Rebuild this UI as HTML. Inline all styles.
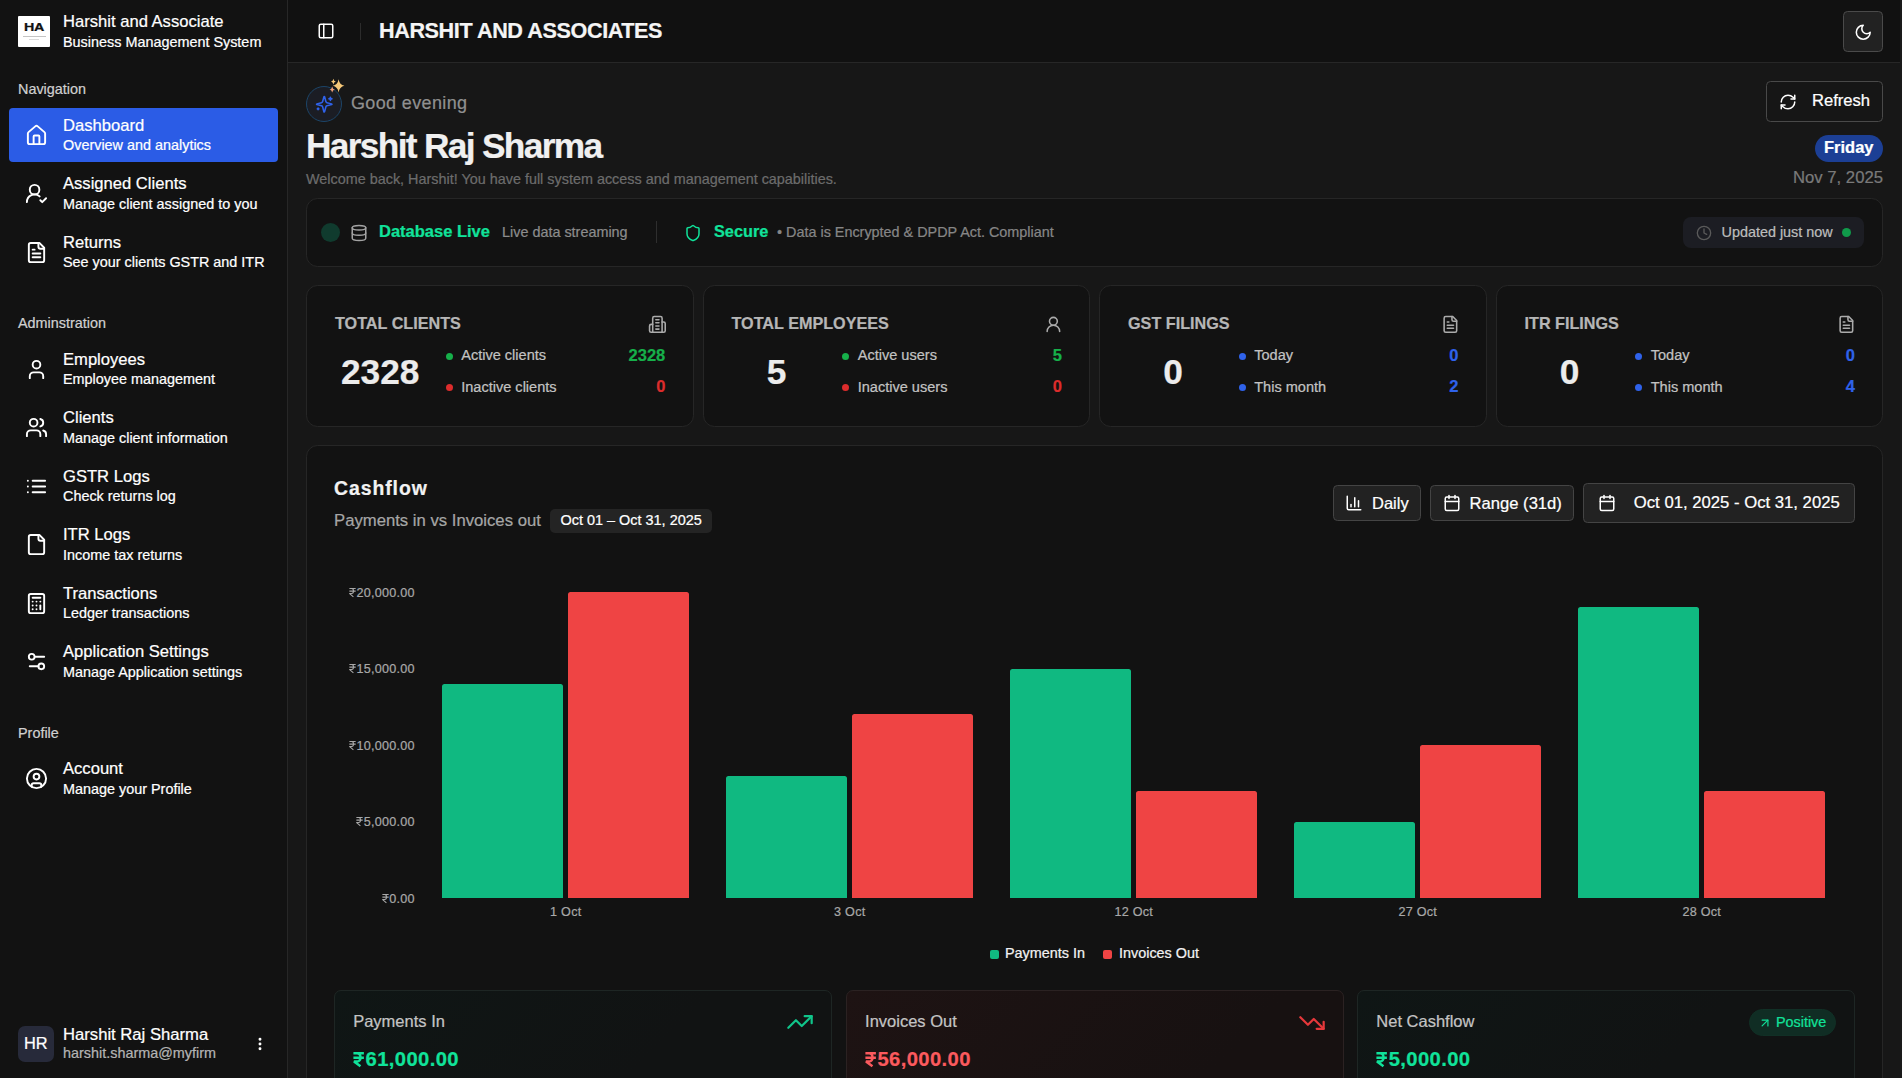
<!DOCTYPE html>
<html lang="en">
<head>
<meta charset="utf-8">
<title>Harshit and Associates</title>
<style>
*{box-sizing:border-box;margin:0;padding:0}
html,body{width:1902px;height:1078px;overflow:hidden;background:#171717;font-family:"Liberation Sans",sans-serif;color:#fff}
.abs{position:absolute}
.t{position:absolute;white-space:nowrap;line-height:1;-webkit-text-stroke:0.22px currentColor}
svg{position:absolute;fill:none;stroke:currentColor;stroke-width:2;stroke-linecap:round;stroke-linejoin:round;overflow:visible}
#sidebar{position:absolute;left:0;top:0;width:288px;height:1078px;background:#121212;border-right:1px solid #272727}
#header{position:absolute;left:288px;top:0;width:1612px;height:63px;background:#111;border-bottom:1px solid #272727}
#main{position:absolute;left:288px;top:63px;width:1612px;height:1015px;background:#171717}
#scroll{position:absolute;left:1900px;top:0;width:2px;height:1078px;background:#1a1a1a}
.card{position:absolute;background:#121212;border:1px solid #262626;border-radius:11.5px}
svg.rs{position:static;display:inline-block;width:.56em;height:.72em;vertical-align:baseline;margin:0 .05em 0 .02em;stroke-width:8.5;stroke-linecap:butt;stroke-linejoin:bevel}
svg.rs.b{stroke-width:12.5}
.yl{font-size:12.6px;letter-spacing:.25px;color:#a8a8a8;text-align:right}
.xl{font-size:12.6px;letter-spacing:.25px;color:#a8a8a8;text-align:center}
.nt{font-size:16.6px;color:#fff}
.ns{font-size:14.4px;color:#fff}
.grp{font-size:14.4px;color:#d0d0d0}
.ico{width:23px;height:23px;color:#fff}
</style>
</head>
<body>
<div id="sidebar"></div>
<div id="header"></div>
<div id="main"></div>
<div id="scroll"></div>
<!-- logo -->
<div class="abs" style="left:18px;top:16px;width:32px;height:31px;background:#fff;border-radius:1px"></div>
<div class="t" style="left:24.2px;top:22.3px;font-size:11px;font-weight:bold;color:#111;letter-spacing:-0.3px;transform:scaleX(1.3);transform-origin:0 0">HA</div>
<div class="abs" style="left:22.5px;top:36px;width:23px;height:1px;background:#c4c4c4"></div>
<div class="abs" style="left:29px;top:39px;width:10px;height:1px;background:#dcdcdc"></div>
<div class="t" style="left:63px;top:14px;font-size:16.6px;color:#fff">Harshit and Associate</div>
<div class="t" style="left:63px;top:35px;font-size:14.4px;color:#fff">Business Management System</div>
<div class="t grp" style="left:18px;top:82px">Navigation</div>
<div class="abs" style="left:9px;top:108px;width:269px;height:54px;background:#2b5ce6;border-radius:4px"></div>
<div class="t grp" style="left:18px;top:316px">Adminstration</div>
<div class="t grp" style="left:18px;top:726px">Profile</div>
<svg class="ico" style="left:24.8px;top:123.50px" viewBox="0 0 24 24"><path d="M15 21v-8a1 1 0 0 0-1-1h-4a1 1 0 0 0-1 1v8"/><path d="M3 10a2 2 0 0 1 .709-1.528l7-5.999a2 2 0 0 1 2.582 0l7 5.999A2 2 0 0 1 21 10v9a2 2 0 0 1-2 2H5a2 2 0 0 1-2-2z"/></svg>
<div class="t nt" style="left:63px;top:118px">Dashboard</div>
<div class="t ns" style="left:63px;top:138px">Overview and analytics</div>
<svg class="ico" style="left:24.8px;top:182.15px" viewBox="0 0 24 24"><path d="M2 21a8 8 0 0 1 13.292-6"/><circle cx="10" cy="8" r="5"/><path d="m16 19 2 2 4-4"/></svg>
<div class="t nt" style="left:63px;top:176px">Assigned Clients</div>
<div class="t ns" style="left:63px;top:197px">Manage client assigned to you</div>
<svg class="ico" style="left:24.8px;top:240.90px" viewBox="0 0 24 24"><path d="M15 2H6a2 2 0 0 0-2 2v16a2 2 0 0 0 2 2h12a2 2 0 0 0 2-2V7Z"/><path d="M14 2v4a2 2 0 0 0 2 2h4"/><path d="M10 9H8"/><path d="M16 13H8"/><path d="M16 17H8"/></svg>
<div class="t nt" style="left:63px;top:235px">Returns</div>
<div class="t ns" style="left:63px;top:255px">See your clients GSTR and ITR</div>
<svg class="ico" style="left:24.8px;top:358.00px" viewBox="0 0 24 24"><path d="M19 21v-2a4 4 0 0 0-4-4H9a4 4 0 0 0-4 4v2"/><circle cx="12" cy="7" r="4"/></svg>
<div class="t nt" style="left:63px;top:352px">Employees</div>
<div class="t ns" style="left:63px;top:372px">Employee management</div>
<svg class="ico" style="left:24.8px;top:415.90px" viewBox="0 0 24 24"><path d="M16 21v-2a4 4 0 0 0-4-4H6a4 4 0 0 0-4 4v2"/><circle cx="9" cy="7" r="4"/><path d="M22 21v-2a4 4 0 0 0-3-3.870"/><path d="M16 3.130a4 4 0 0 1 0 7.750"/></svg>
<div class="t nt" style="left:63px;top:410px">Clients</div>
<div class="t ns" style="left:63px;top:431px">Manage client information</div>
<svg class="ico" style="left:24.8px;top:474.50px" viewBox="0 0 24 24"><path d="M3 12h.01"/><path d="M3 18h.01"/><path d="M3 6h.01"/><path d="M8 12h13"/><path d="M8 18h13"/><path d="M8 6h13"/></svg>
<div class="t nt" style="left:63px;top:469px">GSTR Logs</div>
<div class="t ns" style="left:63px;top:489px">Check returns log</div>
<svg class="ico" style="left:24.8px;top:532.70px" viewBox="0 0 24 24"><path d="M15 2H6a2 2 0 0 0-2 2v16a2 2 0 0 0 2 2h12a2 2 0 0 0 2-2V7Z"/><path d="M14 2v4a2 2 0 0 0 2 2h4"/></svg>
<div class="t nt" style="left:63px;top:527px">ITR Logs</div>
<div class="t ns" style="left:63px;top:548px">Income tax returns</div>
<svg class="ico" style="left:24.8px;top:591.70px" viewBox="0 0 24 24"><rect width="16" height="20" x="4" y="2" rx="2"/><line x1="8" x2="16" y1="6" y2="6"/><line x1="16" x2="16" y1="14" y2="18"/><path d="M16 10h.01"/><path d="M12 10h.01"/><path d="M8 10h.01"/><path d="M12 14h.01"/><path d="M8 14h.01"/><path d="M12 18h.01"/><path d="M8 18h.01"/></svg>
<div class="t nt" style="left:63px;top:586px">Transactions</div>
<div class="t ns" style="left:63px;top:606px">Ledger transactions</div>
<svg class="ico" style="left:24.8px;top:650.10px" viewBox="0 0 24 24"><path d="M20 7h-9"/><path d="M14 17H5"/><circle cx="17" cy="17" r="3"/><circle cx="7" cy="7" r="3"/></svg>
<div class="t nt" style="left:63px;top:644px">Application Settings</div>
<div class="t ns" style="left:63px;top:665px">Manage Application settings</div>
<svg class="ico" style="left:24.8px;top:767.10px" viewBox="0 0 24 24"><circle cx="12" cy="12" r="10"/><circle cx="12" cy="10" r="3"/><path d="M7 20.662V19a2 2 0 0 1 2-2h6a2 2 0 0 1 2 2v1.662"/></svg>
<div class="t nt" style="left:63px;top:761px">Account</div>
<div class="t ns" style="left:63px;top:782px">Manage your Profile</div>
<!-- user footer -->
<div class="abs" style="left:18px;top:1026px;width:36px;height:36px;background:#272a3a;border-radius:7px"></div>
<div class="t" style="left:24px;top:1035px;font-size:16.4px;color:#fff">HR</div>
<div class="t nt" style="left:63px;top:1027px;font-size:16.65px">Harshit Raj Sharma</div>
<div class="t" style="left:63px;top:1046px;font-size:14.4px;color:#b4b4b4">harshit.sharma@myfirm</div>
<svg style="left:252px;top:1036px;width:16px;height:16px;color:#fff" viewBox="0 0 24 24"><circle cx="12" cy="5" r="1.2" fill="currentColor"/><circle cx="12" cy="12" r="1.2" fill="currentColor"/><circle cx="12" cy="19" r="1.2" fill="currentColor"/></svg>

<svg style="left:317px;top:22.4px;width:18px;height:18px;color:#fff" viewBox="0 0 24 24"><rect width="18" height="18" x="3" y="3" rx="2"/><path d="M9 3v18"/></svg>
<div class="abs" style="left:360px;top:23px;width:1px;height:17px;background:#2c2c2c"></div>
<div class="t" style="left:379px;top:20px;font-size:21.6px;font-weight:bold;color:#f5f5f5;letter-spacing:-0.4px">HARSHIT AND ASSOCIATES</div>
<div class="abs" style="left:1843px;top:11px;width:40px;height:41px;background:#222;border:1px solid #4a4a4a;border-radius:4.5px"></div>
<svg style="left:1853.9px;top:22.7px;width:18.5px;height:18.5px;color:#fff" viewBox="0 0 24 24"><path d="M12 3a6 6 0 0 0 9 9 9 9 0 1 1-9-9Z"/></svg>

<!-- greeting -->
<div class="abs" style="left:306px;top:86px;width:36px;height:36px;border-radius:50%;background:#1b1d24;border:1px solid #1c4568"></div>
<svg style="left:315px;top:94.8px;width:18.5px;height:18.5px;color:#2f62ea;stroke-width:2" viewBox="0 0 24 24"><path d="M9.937 15.5A2 2 0 0 0 8.5 14.063l-6.135-1.582a.5.5 0 0 1 0-.962L8.5 9.936A2 2 0 0 0 9.937 8.5l1.582-6.135a.5.5 0 0 1 .963 0L14.063 8.5A2 2 0 0 0 15.5 9.937l6.135 1.581a.5.5 0 0 1 0 .964L15.5 14.063a2 2 0 0 0-1.437 1.437l-1.582 6.135a.5.5 0 0 1-.963 0z"/><path d="M20 3v4"/><path d="M22 5h-4"/><path d="M4 17v2"/><path d="M5 18H3"/></svg>
<svg style="left:326px;top:76px;width:22px;height:20px;stroke:none" viewBox="0 0 22 20"><path fill="#f6c878" d="M12.60 3.20 Q13.53 8.74 18.40 9.80 Q13.53 10.86 12.60 16.40 Q11.67 10.86 6.80 9.80 Q11.67 8.74 12.60 3.20Z"/><path fill="#f6c878" d="M7.40 2.80 Q7.76 5.18 9.80 5.60 Q7.76 6.02 7.40 8.40 Q7.04 6.02 5.00 5.60 Q7.04 5.18 7.40 2.80Z"/><path fill="#f0a078" d="M6.20 10.40 Q6.59 12.95 8.80 13.40 Q6.59 13.85 6.20 16.40 Q5.81 13.85 3.60 13.40 Q5.81 12.95 6.20 10.40Z"/></svg>
<div class="t" style="left:351px;top:93.5px;font-size:18px;color:#909090;letter-spacing:0.36px">Good evening</div>
<div class="t" style="left:306px;top:128.2px;font-size:35.3px;font-weight:bold;color:#f0f0f0;letter-spacing:-1.68px">Harshit Raj Sharma</div>
<div class="t" style="left:306px;top:171.7px;font-size:14.4px;color:#6c6c6c">Welcome back, Harshit! You have full system access and management capabilities.</div>

<!-- refresh -->
<div class="abs" style="left:1766px;top:81px;width:117px;height:41px;background:#161616;border:1px solid #494949;border-radius:4.5px"></div>
<svg style="left:1779px;top:92.5px;width:18px;height:18px;color:#fff" viewBox="0 0 24 24"><path d="M3 12a9 9 0 0 1 9-9 9.750 9.750 0 0 1 6.740 2.740L21 8"/><path d="M21 3v5h-5"/><path d="M21 12a9 9 0 0 1-9 9 9.750 9.750 0 0 1-6.740-2.740L3 16"/><path d="M8 16H3v5"/></svg>
<div class="t" style="left:1812px;top:93.1px;font-size:16.6px;color:#fff">Refresh</div>
<div class="abs" style="left:1815px;top:135px;width:68px;height:27px;background:#1c3f95;border-radius:14px"></div>
<div class="t" style="left:1824px;top:138.7px;font-size:16.5px;font-weight:bold;color:#fff">Friday</div>
<div class="t" style="right:19px;top:170.1px;font-size:16.7px;color:#7a7a7a">Nov 7, 2025</div>

<!-- status card -->
<div class="card" style="left:306px;top:198px;width:1577px;height:68.500px"></div>
<div class="abs" style="left:321px;top:223px;width:19px;height:19px;border-radius:50%;background:#103b2e"></div>
<svg style="left:350px;top:224px;width:18px;height:18px;color:#a3a3a3" viewBox="0 0 24 24"><ellipse cx="12" cy="5" rx="9" ry="3"/><path d="M3 5V19A9 3 0 0 0 21 19V5"/><path d="M3 12A9 3 0 0 0 21 12"/></svg>
<div class="t" style="left:379px;top:223px;font-size:16.5px;font-weight:bold;color:#10e29a">Database Live</div>
<div class="t" style="left:502px;top:224.8px;font-size:14.4px;color:#8c8c8c">Live data streaming</div>
<div class="abs" style="left:656px;top:221px;width:1px;height:22px;background:#2e2e2e"></div>
<svg style="left:684px;top:224px;width:18px;height:18px;color:#10e29a" viewBox="0 0 24 24"><path d="M20 13c0 5-3.500 7.500-7.660 8.950a1 1 0 0 1-.67-.01C7.500 20.500 4 18 4 13V6a1 1 0 0 1 1-1c2 0 4.500-1.200 6.240-2.720a1.170 1.170 0 0 1 1.520 0C14.510 3.810 17 5 19 5a1 1 0 0 1 1 1z"/></svg>
<div class="t" style="left:714px;top:223px;font-size:16.3px;font-weight:bold;color:#10e29a">Secure</div>
<div class="t" style="left:777px;top:224.800px;font-size:14.4px;color:#868686">• Data is Encrypted &amp; DPDP Act. Compliant</div>
<div class="abs" style="left:1683px;top:217px;width:181px;height:31px;background:#1c1d23;border-radius:8px"></div>
<svg style="left:1696px;top:225px;width:16px;height:16px;color:#5a5a5a" viewBox="0 0 24 24"><circle cx="12" cy="12" r="10"/><polyline points="12 6 12 12 16 14"/></svg>
<div class="t" style="left:1721.500px;top:224.700px;font-size:14.4px;color:#bdbdbd">Updated just now</div>
<div class="abs" style="left:1842px;top:228px;width:9px;height:9px;border-radius:50%;background:#109a4a"></div>

<!-- stat cards -->
<div class="card" style="left:306px;top:285px;width:387.5px;height:142px">
<div class="t" style="left:28px;top:29px;font-size:16.2px;font-weight:bold;color:#b6b6b6">TOTAL CLIENTS</div>
<svg style="right:26.2px;top:29.3px;width:18.8px;height:18.8px;color:#ababab" viewBox="0 0 24 24"><path d="M6 22V4a2 2 0 0 1 2-2h8a2 2 0 0 1 2 2v18Z"/><path d="M6 12H4a2 2 0 0 0-2 2v6a2 2 0 0 0 2 2h2"/><path d="M18 9h2a2 2 0 0 1 2 2v9a2 2 0 0 1-2 2h-2"/><path d="M10 6h4"/><path d="M10 10h4"/><path d="M10 14h4"/><path d="M10 18h4"/></svg>
<div class="t" style="left:23.2px;width:100px;text-align:center;top:68px;font-size:35.3px;font-weight:bold;color:#ececec">2328</div>
<div class="abs" style="left:138.5px;top:66.6px;width:7.4px;height:7.4px;border-radius:50%;background:#16b04a"></div>
<div class="t" style="left:154.2px;top:62px;font-size:14.55px;color:#c2c2c2">Active clients</div>
<div class="t" style="right:27.2px;top:61px;font-size:16.5px;font-weight:bold;color:#16b04a">2328</div>
<div class="abs" style="left:138.5px;top:98px;width:7.4px;height:7.4px;border-radius:50%;background:#dc2c2c"></div>
<div class="t" style="left:154.2px;top:94px;font-size:14.55px;color:#c2c2c2">Inactive clients</div>
<div class="t" style="right:27.2px;top:92px;font-size:16.5px;font-weight:bold;color:#dc2c2c">0</div>
</div>
<div class="card" style="left:702.5px;top:285px;width:387.5px;height:142px">
<div class="t" style="left:28px;top:29px;font-size:16.2px;font-weight:bold;color:#b6b6b6">TOTAL EMPLOYEES</div>
<svg style="right:26.2px;top:29.3px;width:18.8px;height:18.8px;color:#ababab" viewBox="0 0 24 24"><circle cx="12" cy="8" r="5"/><path d="M20 21a8 8 0 0 0-16 0"/></svg>
<div class="t" style="left:23.2px;width:100px;text-align:center;top:68px;font-size:35.3px;font-weight:bold;color:#ececec">5</div>
<div class="abs" style="left:138.5px;top:66.6px;width:7.4px;height:7.4px;border-radius:50%;background:#16b04a"></div>
<div class="t" style="left:154.2px;top:62px;font-size:14.55px;color:#c2c2c2">Active users</div>
<div class="t" style="right:27.2px;top:61px;font-size:16.5px;font-weight:bold;color:#16b04a">5</div>
<div class="abs" style="left:138.5px;top:98px;width:7.4px;height:7.4px;border-radius:50%;background:#dc2c2c"></div>
<div class="t" style="left:154.2px;top:94px;font-size:14.55px;color:#c2c2c2">Inactive users</div>
<div class="t" style="right:27.2px;top:92px;font-size:16.5px;font-weight:bold;color:#dc2c2c">0</div>
</div>
<div class="card" style="left:1099px;top:285px;width:387.5px;height:142px">
<div class="t" style="left:28px;top:29px;font-size:16.2px;font-weight:bold;color:#b6b6b6">GST FILINGS</div>
<svg style="right:26.2px;top:29.3px;width:18.8px;height:18.8px;color:#ababab" viewBox="0 0 24 24"><path d="M15 2H6a2 2 0 0 0-2 2v16a2 2 0 0 0 2 2h12a2 2 0 0 0 2-2V7Z"/><path d="M14 2v4a2 2 0 0 0 2 2h4"/><path d="M10 9H8"/><path d="M16 13H8"/><path d="M16 17H8"/></svg>
<div class="t" style="left:23.2px;width:100px;text-align:center;top:68px;font-size:35.3px;font-weight:bold;color:#ececec">0</div>
<div class="abs" style="left:138.5px;top:66.6px;width:7.4px;height:7.4px;border-radius:50%;background:#2f62ea"></div>
<div class="t" style="left:154.2px;top:62px;font-size:14.55px;color:#c2c2c2">Today</div>
<div class="t" style="right:27.2px;top:61px;font-size:16.5px;font-weight:bold;color:#2f62ea">0</div>
<div class="abs" style="left:138.5px;top:98px;width:7.4px;height:7.4px;border-radius:50%;background:#2f62ea"></div>
<div class="t" style="left:154.2px;top:94px;font-size:14.55px;color:#c2c2c2">This month</div>
<div class="t" style="right:27.2px;top:92px;font-size:16.5px;font-weight:bold;color:#2f62ea">2</div>
</div>
<div class="card" style="left:1495.5px;top:285px;width:387.5px;height:142px">
<div class="t" style="left:28px;top:29px;font-size:16.2px;font-weight:bold;color:#b6b6b6">ITR FILINGS</div>
<svg style="right:26.2px;top:29.3px;width:18.8px;height:18.8px;color:#ababab" viewBox="0 0 24 24"><path d="M15 2H6a2 2 0 0 0-2 2v16a2 2 0 0 0 2 2h12a2 2 0 0 0 2-2V7Z"/><path d="M14 2v4a2 2 0 0 0 2 2h4"/><path d="M10 9H8"/><path d="M16 13H8"/><path d="M16 17H8"/></svg>
<div class="t" style="left:23.2px;width:100px;text-align:center;top:68px;font-size:35.3px;font-weight:bold;color:#ececec">0</div>
<div class="abs" style="left:138.5px;top:66.6px;width:7.4px;height:7.4px;border-radius:50%;background:#2f62ea"></div>
<div class="t" style="left:154.2px;top:62px;font-size:14.55px;color:#c2c2c2">Today</div>
<div class="t" style="right:27.2px;top:61px;font-size:16.5px;font-weight:bold;color:#2f62ea">0</div>
<div class="abs" style="left:138.5px;top:98px;width:7.4px;height:7.4px;border-radius:50%;background:#2f62ea"></div>
<div class="t" style="left:154.2px;top:94px;font-size:14.55px;color:#c2c2c2">This month</div>
<div class="t" style="right:27.2px;top:92px;font-size:16.5px;font-weight:bold;color:#2f62ea">4</div>
</div>

<!-- cashflow -->
<div class="card" style="left:306px;top:445px;width:1577px;height:700px"></div>
<div class="t" style="left:334px;top:479px;font-size:19.4px;font-weight:bold;color:#f2f2f2;letter-spacing:0.95px">Cashflow</div>
<div class="t" style="left:334px;top:513px;font-size:16.7px;color:#a6a6a6">Payments in vs Invoices out</div>
<div class="abs" style="left:550px;top:509px;width:162px;height:24px;background:#242424;border-radius:5px"></div>
<div class="t" style="left:560.5px;top:513.3px;font-size:14.45px;color:#fff">Oct 01 – Oct 31, 2025</div>
<div class="abs" style="left:1333px;top:485px;width:88px;height:36px;background:#222;border:1px solid #444;border-radius:4.5px"></div>
<svg style="left:1345px;top:494px;width:18px;height:18px;color:#fff" viewBox="0 0 24 24"><path d="M3 3v16a2 2 0 0 0 2 2h16"/><path d="M18 17V9"/><path d="M13 17V5"/><path d="M8 17v-3"/></svg>
<div class="t" style="left:1372px;top:495px;font-size:16.5px;color:#fff">Daily</div>
<div class="abs" style="left:1430px;top:485px;width:144px;height:36px;background:#222;border:1px solid #444;border-radius:4.5px"></div>
<svg style="left:1442.8px;top:494.2px;width:18px;height:18px;color:#fff" viewBox="0 0 24 24"><path d="M8 2v4"/><path d="M16 2v4"/><rect width="18" height="18" x="3" y="4" rx="2"/><path d="M3 10h18"/></svg>
<div class="t" style="left:1469.6px;top:496px;font-size:16.6px;color:#fff">Range (31d)</div>
<div class="abs" style="left:1583px;top:483px;width:272px;height:40px;background:#222;border:1px solid #444;border-radius:4.5px"></div>
<svg style="left:1597.9px;top:494px;width:18px;height:18px;color:#fff" viewBox="0 0 24 24"><path d="M8 2v4"/><path d="M16 2v4"/><rect width="18" height="18" x="3" y="4" rx="2"/><path d="M3 10h18"/></svg>
<div class="t" style="left:1633.8px;top:495px;font-size:16.7px;color:#fff">Oct 01, 2025 - Oct 31, 2025</div>
<div class="t yl" style="right:1487.2px;top:587.13px"><svg class="rs" viewBox="0 0 56 72"><path d="M3 4H53M3 25H53M3 4H21C41 4 41 43 21 43H3L35 71"/></svg>20,000.00</div>
<div class="t yl" style="right:1487.2px;top:662.93px"><svg class="rs" viewBox="0 0 56 72"><path d="M3 4H53M3 25H53M3 4H21C41 4 41 43 21 43H3L35 71"/></svg>15,000.00</div>
<div class="t yl" style="right:1487.2px;top:740.13px"><svg class="rs" viewBox="0 0 56 72"><path d="M3 4H53M3 25H53M3 4H21C41 4 41 43 21 43H3L35 71"/></svg>10,000.00</div>
<div class="t yl" style="right:1487.2px;top:815.93px"><svg class="rs" viewBox="0 0 56 72"><path d="M3 4H53M3 25H53M3 4H21C41 4 41 43 21 43H3L35 71"/></svg>5,000.00</div>
<div class="t yl" style="right:1487.2px;top:893.13px"><svg class="rs" viewBox="0 0 56 72"><path d="M3 4H53M3 25H53M3 4H21C41 4 41 43 21 43H3L35 71"/></svg>0.00</div>
<div class="abs" style="left:442.05px;top:683.80px;width:121.4px;height:214.20px;background:#10b981;border-radius:2.5px 2.5px 0 0"></div>
<div class="abs" style="left:567.90px;top:592.00px;width:121.4px;height:306.00px;background:#ef4444;border-radius:2.5px 2.5px 0 0"></div>
<div class="t xl" style="left:515.8px;width:100px;top:905.73px">1 Oct</div>
<div class="abs" style="left:726.05px;top:775.60px;width:121.4px;height:122.40px;background:#10b981;border-radius:2.5px 2.5px 0 0"></div>
<div class="abs" style="left:851.90px;top:714.40px;width:121.4px;height:183.60px;background:#ef4444;border-radius:2.5px 2.5px 0 0"></div>
<div class="t xl" style="left:799.8px;width:100px;top:905.73px">3 Oct</div>
<div class="abs" style="left:1010.05px;top:668.50px;width:121.4px;height:229.50px;background:#10b981;border-radius:2.5px 2.5px 0 0"></div>
<div class="abs" style="left:1135.90px;top:790.90px;width:121.4px;height:107.10px;background:#ef4444;border-radius:2.5px 2.5px 0 0"></div>
<div class="t xl" style="left:1083.8px;width:100px;top:905.73px">12 Oct</div>
<div class="abs" style="left:1294.05px;top:821.50px;width:121.4px;height:76.50px;background:#10b981;border-radius:2.5px 2.5px 0 0"></div>
<div class="abs" style="left:1419.90px;top:745.00px;width:121.4px;height:153.00px;background:#ef4444;border-radius:2.5px 2.5px 0 0"></div>
<div class="t xl" style="left:1367.8px;width:100px;top:905.73px">27 Oct</div>
<div class="abs" style="left:1578.05px;top:607.30px;width:121.4px;height:290.70px;background:#10b981;border-radius:2.5px 2.5px 0 0"></div>
<div class="abs" style="left:1703.90px;top:790.90px;width:121.4px;height:107.10px;background:#ef4444;border-radius:2.5px 2.5px 0 0"></div>
<div class="t xl" style="left:1651.8px;width:100px;top:905.73px">28 Oct</div>
<div class="abs" style="left:990px;top:950.3px;width:8.8px;height:8.8px;border-radius:2px;background:#10b981"></div>
<div class="t" style="left:1005px;top:945.7px;font-size:14.4px;color:#f2f2f2">Payments In</div>
<div class="abs" style="left:1103.2px;top:950.3px;width:8.8px;height:8.8px;border-radius:2px;background:#ef4444"></div>
<div class="t" style="left:1119px;top:945.7px;font-size:14.4px;color:#f2f2f2">Invoices Out</div>
<div class="abs" style="left:334.2px;top:990px;width:497.5px;height:140px;background:linear-gradient(135deg,#0f1615,#111313 60%);border:1px solid #1e2624;border-radius:7px">
<div class="t" style="left:18px;top:22.03px;font-size:16.5px;color:#c4c4c4">Payments In</div>
<div class="t" style="left:17.7px;top:58.40px;font-size:20.2px;font-weight:bold;letter-spacing:0.4px;color:#10e29a"><svg class="rs b" viewBox="0 0 56 72"><path d="M2 6.500H54M2 28.500H54M2 6.500H20C43 6.500 43 47 20 47H5L37 71"/></svg>61,000.00</div>
</div>
<div class="abs" style="left:846.1px;top:990px;width:497.5px;height:140px;background:linear-gradient(135deg,#1e1313,#171111 70%);border:1px solid #2b2222;border-radius:7px">
<div class="t" style="left:18px;top:22.03px;font-size:16.5px;color:#c4c4c4">Invoices Out</div>
<div class="t" style="left:17.7px;top:58.40px;font-size:20.2px;font-weight:bold;letter-spacing:0.4px;color:#fb5a5e"><svg class="rs b" viewBox="0 0 56 72"><path d="M2 6.500H54M2 28.500H54M2 6.500H20C43 6.500 43 47 20 47H5L37 71"/></svg>56,000.00</div>
</div>
<div class="abs" style="left:1357.3px;top:990px;width:497.5px;height:140px;background:linear-gradient(135deg,#0f1615,#111313 60%);border:1px solid #1e2624;border-radius:7px">
<div class="t" style="left:18px;top:22.03px;font-size:16.5px;color:#c4c4c4">Net Cashflow</div>
<div class="t" style="left:17.7px;top:58.40px;font-size:20.2px;font-weight:bold;letter-spacing:0.4px;color:#10e29a"><svg class="rs b" viewBox="0 0 56 72"><path d="M2 6.500H54M2 28.500H54M2 6.500H20C43 6.500 43 47 20 47H5L37 71"/></svg>5,000.00</div>
</div>
<svg style="left:785.8px;top:1008.3px;width:28px;height:28px;color:#10c58a;stroke-width:1.9" viewBox="0 0 24 24"><polyline points="22 7 13.5 15.5 8.5 10.5 2 17"/><polyline points="16 7 22 7 22 13"/></svg>
<svg style="left:1298.3px;top:1008.7px;width:28px;height:28px;color:#e5383b;stroke-width:1.9" viewBox="0 0 24 24"><polyline points="22 17 13.5 8.5 8.5 13.5 2 7"/><polyline points="16 17 22 17 22 11"/></svg>
<div class="abs" style="left:1749.4px;top:1009px;width:86.4px;height:27px;border-radius:14px;background:#102d24;border:1px solid #113026"></div>
<svg style="left:1757.6px;top:1015.5px;width:14px;height:14px;color:#10e29a" viewBox="0 0 24 24"><path d="M7 7h10v10"/><path d="M7 17 17 7"/></svg>
<div class="t" style="left:1775.9px;top:1015.2px;font-size:14.4px;color:#10e29a">Positive</div>

</body>
</html>
